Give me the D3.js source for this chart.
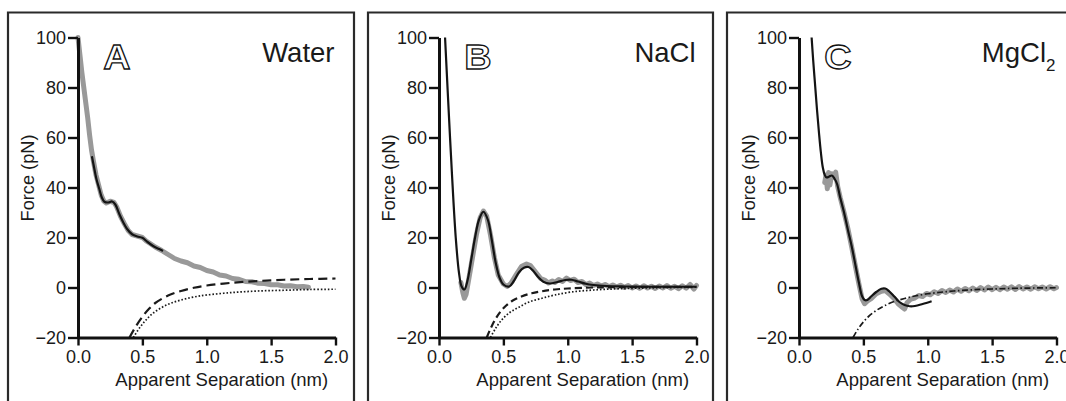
<!DOCTYPE html>
<html>
<head>
<meta charset="utf-8">
<script src="https://cdn.jsdelivr.net/npm/d3@7/dist/d3.min.js"></script>
<style>
  html, body { margin: 0; padding: 0; background: #fff; }
  svg { display: block; }
  text { font-family: "Liberation Sans", Arial, sans-serif; fill: #1a1a1a; }
</style>
</head>
<body>
<svg id="chart" width="1066" height="401"></svg>
<script>
// ---- axis ticks ----
const xTicks = [0, 0.5, 1, 1.5, 2];
const yTicks = [-20, 0, 20, 40, 60, 80, 100];

// ---- panel labels ----
const panelLetters = ["A", "B", "C"];
const conditions = ["Water", "NaCl", "MgCl"];
const conditionSubscripts = ["", "", "2"];

// ---- Panel A: water ----
const waterRaw = [
  [0.00,100],[0.015,93],[0.03,86],[0.045,80],[0.06,74],[0.075,68],[0.09,61],[0.105,55],
  [0.12,50.5],[0.14,45],[0.16,41],[0.18,37],[0.20,34.6],[0.22,33.8],[0.25,34.5],[0.28,34],
  [0.30,32.3],[0.33,28.5],[0.36,25.5],[0.39,22.8],[0.42,21.2],[0.46,20.6],[0.50,20],
  [0.53,18.6],[0.56,17.6],[0.60,16.2],[0.65,14.8],[0.70,13.2],[0.75,11.6],[0.80,10.6],
  [0.85,9.9],[0.90,8.6],[0.95,8],[1.00,6.8],[1.05,6.2],[1.10,5],[1.15,4.6],[1.20,3.6],
  [1.25,3.3],[1.30,2.4],[1.35,2.3],[1.40,1.7],[1.45,1.6],[1.50,1.1],[1.55,1.1],
  [1.60,0.6],[1.65,0.7],[1.70,0.3],[1.75,0.4],[1.79,0.1]
];
const waterFit = [
  [0.108,52.5],[0.125,48],[0.145,43],[0.165,39.5],[0.185,36],[0.205,34.3],[0.235,34],
  [0.265,34.4],[0.29,33.2],[0.32,29.5],[0.35,26.2],[0.38,23.5],[0.42,21.3],[0.46,20.4],
  [0.50,19.9],[0.54,18.2],[0.59,16.4],[0.63,15.4],[0.66,14.6]
];
const waterDashed = [
  [0.40,-20],[0.45,-15.5],[0.50,-11.7],[0.55,-8.6],[0.60,-6.2],[0.70,-3.2],[0.80,-1.4],
  [0.90,-0.1],[1.00,0.8],[1.20,1.9],[1.40,2.6],[1.60,3.1],[1.80,3.4],[2.00,3.6]
];
const waterDotted = [
  [0.43,-20],[0.48,-16],[0.53,-12.9],[0.58,-10.4],[0.65,-8],[0.72,-6.3],[0.80,-5],
  [0.90,-3.8],[1.00,-3],[1.20,-2],[1.40,-1.4],[1.60,-1.1],[1.80,-0.8],[2.00,-0.7]
];

// ---- Panel B: NaCl ----
const naclRaw = [
  [0.17,2],[0.185,-2],[0.197,-4.3],[0.21,-2.8],[0.23,3],[0.26,12],[0.29,21],[0.32,28],
  [0.345,30.6],[0.37,28.6],[0.40,21],[0.43,12],[0.46,5],[0.50,1.4],[0.53,0.4],[0.56,1.8],
  [0.60,5.2],[0.64,8.4],[0.68,9.4],[0.71,8.8],[0.75,6.2],[0.79,3.6],[0.82,3],[0.85,1.8],
  [0.88,2.6],[0.90,2],[0.93,3.2],[0.96,2.4],[0.99,3.8],[1.02,2.8],[1.05,3.3],[1.08,2],
  [1.11,2.4],[1.14,1.2],[1.17,1.8],[1.20,0.8],[1.23,1.4],[1.26,0.6],[1.29,1.2],[1.32,0.3],
  [1.35,1],[1.38,0.2],[1.41,0.9],[1.44,0],[1.47,0.8],[1.50,-0.2],[1.53,0.6],[1.56,-0.3],
  [1.59,0.7],[1.62,-0.2],[1.65,0.5],[1.68,-0.4],[1.71,0.6],[1.74,-0.2],[1.77,0.8],
  [1.80,-0.3],[1.83,0.5],[1.86,-0.5],[1.89,0.7],[1.92,-0.3],[1.95,1.2],[1.98,-0.6],[2.00,0.8]
];
const naclFit = [
  [0.047,100],[0.07,76],[0.10,46],[0.13,20],[0.155,6],[0.175,0.5],[0.197,-0.8],[0.22,2.5],
  [0.25,11],[0.28,20],[0.31,27],[0.345,30.3],[0.38,27],[0.41,19],[0.44,10],[0.47,4],
  [0.50,1.2],[0.545,0.4],[0.58,2.5],[0.62,6],[0.66,7.9],[0.695,8.2],[0.73,6.8],[0.77,4.2],
  [0.81,2.3],[0.86,1.6],[0.92,2.2],[0.98,3],[1.03,3.1],[1.08,2.4],[1.14,1.5],[1.20,1],
  [1.30,0.6],[1.45,0.4],[1.60,0.3],[1.80,0.3],[2.00,0.3]
];
const naclDashed = [
  [0.371,-20],[0.40,-16.5],[0.44,-12.5],[0.48,-9.5],[0.52,-7.3],[0.57,-5.3],[0.64,-3.6],
  [0.72,-2.3],[0.80,-1.5],[0.90,-0.8],[1.00,-0.4],[1.20,0],[1.50,0.2],[2.00,0.3]
];
const naclDotted = [
  [0.40,-20],[0.44,-16.3],[0.49,-12.8],[0.55,-10],[0.62,-7.9],[0.70,-5.8],[0.80,-4.3],
  [0.90,-3],[1.03,-1.8],[1.20,-1],[1.40,-0.5],[1.70,-0.1],[2.00,0.1]
];

// ---- Panel C: MgCl2 ----
const mgRaw = [
  [0.20,42],[0.21,45],[0.22,39.5],[0.23,46],[0.24,41],[0.255,45.5],[0.27,44],[0.285,46.2],
  [0.30,40.5],[0.32,36],[0.35,30],[0.38,23.5],[0.41,16],[0.44,8],[0.465,1.5],[0.49,-4.5],
  [0.51,-6.5],[0.53,-5.5],[0.56,-4.5],[0.60,-2.5],[0.64,-1.5],[0.67,-1.2],[0.70,-2.5],
  [0.74,-4.5],[0.77,-6.5],[0.80,-7.8],[0.82,-8.6],[0.84,-6],[0.87,-4.6],[0.90,-4.2],
  [0.93,-3.2],[0.96,-3.6],[0.99,-2.4],[1.02,-2.9],[1.05,-1.7],[1.08,-2.4],[1.11,-1.2],
  [1.14,-2],[1.17,-1],[1.20,-1.8],[1.23,-0.6],[1.26,-1.5],[1.29,-0.4],[1.32,-1.3],
  [1.35,-0.2],[1.38,-1.2],[1.41,0],[1.44,-1],[1.47,0.2],[1.50,-0.9],[1.53,0.1],[1.56,-0.9],
  [1.59,0.2],[1.62,-0.7],[1.65,0.3],[1.68,-0.8],[1.71,0.4],[1.74,-0.6],[1.77,0.2],
  [1.80,-0.7],[1.83,0.3],[1.86,-0.5],[1.89,0.2],[1.92,-0.6],[1.95,0.3],[1.98,-0.5],[2.00,0]
];
const mgFit = [
  [0.098,100],[0.11,91],[0.125,81],[0.14,71],[0.155,62],[0.17,54],[0.185,48],[0.20,45],
  [0.215,44],[0.235,44.4],[0.255,44.8],[0.275,43.6],[0.295,41.5],[0.32,36],[0.35,30],
  [0.38,23],[0.41,16.3],[0.44,8.5],[0.465,2],[0.49,-3.5],[0.51,-5],[0.53,-5],[0.56,-3.6],
  [0.60,-1.8],[0.64,-0.5],[0.67,-0.4],[0.70,-1.5],[0.74,-3.6],[0.78,-5.8],[0.82,-7],
  [0.86,-7.5],[0.90,-7.4],[0.96,-6.6],[1.03,-5.5]
];
const mgDashDot = [
  [0.42,-20],[0.46,-16.5],[0.50,-13.8],[0.54,-11.6],[0.60,-9.2],[0.66,-7.4],[0.74,-5.6],
  [0.82,-4.4],[0.90,-3.4],[1.00,-2.5],[1.10,-1.9],[1.20,-1.4],[1.35,-0.9],[1.50,-0.6],
  [1.70,-0.3],[2.00,-0.1]
];

// ---- per-panel series ----
const panels = [
  { raw: waterRaw, fit: waterFit, guides: [
      { data: waterDashed, dash: "9,5", width: 2.2 },
      { data: waterDotted, dash: "1.6,1.9", width: 1.7 } ] },
  { raw: naclRaw, fit: naclFit, guides: [
      { data: naclDashed, dash: "7,4", width: 2.2 },
      { data: naclDotted, dash: "1.6,1.9", width: 1.7 } ] },
  { raw: mgRaw, fit: mgFit, guides: [
      { data: mgDashDot, dash: "6,2.5,1.5,2.5", width: 1.7 } ] }
];

// ---- layout ----
const svg = d3.select("#chart");
const frameLeft = [8, 368, 727];
const frameRight = [354, 713, 1075];
const axisLeft = [78, 439, 799];
const plotW = 257.5;
const plotTop = 37.5, plotBottom = 337.5;

panels.forEach((p, i) => {
  // panel frame (open at the bottom edge)
  svg.append("path")
    .attr("d", `M${frameLeft[i]},405 V12.5 H${frameRight[i]} V405`)
    .attr("fill", "none").attr("stroke", "#2a2a2a").attr("stroke-width", 2.2);

  const x = d3.scaleLinear().domain([0, 2]).range([axisLeft[i], axisLeft[i] + plotW]);
  const y = d3.scaleLinear().domain([-20, 100]).range([plotBottom, plotTop]);
  const g = svg.append("g");

  const lineSmooth = d3.line().x(d => x(d[0])).y(d => y(d[1])).curve(d3.curveCatmullRom.alpha(0.5));
  const lineRough = d3.line().x(d => x(d[0])).y(d => y(d[1])).curve(d3.curveLinear);

  // measured data (grey band)
  g.append("path").datum(p.raw)
    .attr("d", lineRough)
    .attr("fill", "none").attr("stroke", "#999").attr("stroke-width", 5)
    .attr("stroke-linejoin", "round").attr("stroke-linecap", "round");

  // model components
  p.guides.forEach(s => {
    g.append("path").datum(s.data)
      .attr("d", lineSmooth)
      .attr("fill", "none").attr("stroke", "#1a1a1a")
      .attr("stroke-width", s.width).attr("stroke-dasharray", s.dash);
  });

  // fitted curve
  g.append("path").datum(p.fit)
    .attr("d", lineSmooth)
    .attr("fill", "none").attr("stroke", "#141414").attr("stroke-width", 2.2)
    .attr("stroke-linejoin", "round");

  // axes
  const yAxis = d3.axisLeft(y).tickValues(yTicks).tickSize(10).tickSizeOuter(0).tickPadding(2)
    .tickFormat(d3.format("d"));
  const xAxis = d3.axisBottom(x).tickValues(xTicks).tickSize(8).tickSizeOuter(0).tickPadding(5)
    .tickFormat(d3.format(".1f"));

  const ya = g.append("g").attr("transform", `translate(${axisLeft[i]},0)`).call(yAxis);
  const xa = g.append("g").attr("transform", `translate(0,${plotBottom})`).call(xAxis);
  [ya, xa].forEach(a => {
    a.select(".domain").attr("stroke", "#111").attr("stroke-width", 3);
    a.selectAll(".tick line").attr("stroke", "#111").attr("stroke-width", 2.4);
    a.selectAll(".tick text").attr("font-size", 18).attr("fill", "#222")
      .attr("font-family", "'Liberation Sans', Arial, sans-serif");
  });

  // axis titles
  g.append("text")
    .attr("x", axisLeft[i] + plotW / 2 + 15).attr("y", 386)
    .attr("text-anchor", "middle").attr("font-size", 18.5)
    .text("Apparent Separation (nm)");
  g.append("text")
    .attr("transform", `translate(${axisLeft[i] - 44},178) rotate(-90)`)
    .attr("text-anchor", "middle").attr("font-size", 18.2)
    .text("Force (pN)");

  // outlined panel letter
  g.append("text")
    .attr("transform", `translate(${axisLeft[i] + 39},69) scale(1.08,1)`)
    .attr("text-anchor", "middle").attr("font-size", 35).attr("font-weight", "bold")
    .style("fill", "#fff").attr("stroke", "#111").attr("stroke-width", 1.25)
    .attr("stroke-linejoin", "miter")
    .text(panelLetters[i]);

  // condition label
  const c = g.append("text")
    .attr("x", axisLeft[i] + plotW - 1).attr("y", 62)
    .attr("text-anchor", "end").attr("font-size", 27.5);
  c.append("tspan").text(conditions[i]);
  if (conditionSubscripts[i]) {
    c.append("tspan").attr("font-size", 17).attr("dy", 9).text(conditionSubscripts[i]);
  }
});
</script>
</body>
</html>
